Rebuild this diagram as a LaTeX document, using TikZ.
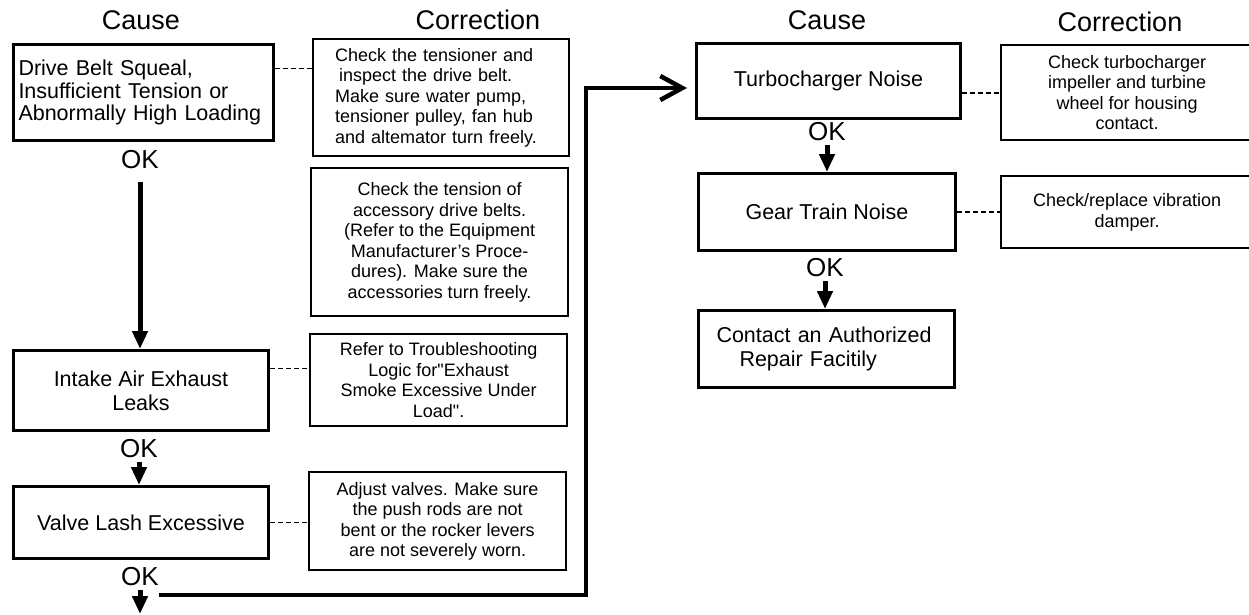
\documentclass[tikz,border=0pt]{standalone}
\usepackage{fontspec}
\setmainfont{Liberation Sans}
\usetikzlibrary{arrows.meta,calc}
\tikzset{
  cause/.style={draw, line width=3pt, anchor=north west, align=center, inner sep=4pt, font=\fontsize{21.5}{24}\selectfont},
  fix/.style={draw, line width=2.2pt, anchor=north west, align=center, inner sep=4pt, font=\fontsize{18}{20.5}\selectfont},
  hdr/.style={font=\fontsize{27}{30}\selectfont},
  oklbl/.style={font=\fontsize{26}{28}\selectfont},
  arr/.style={-{Triangle[length=18pt,width=15pt]}, line width=5pt},
  route/.style={-{Straight Barb[length=22pt,width=24pt]}, line width=4.5pt},
  link/.style={line width=1.8pt, dash pattern=on 5pt off 3pt},
}

\begin{document}
\begin{tikzpicture}[x=1pt, y=-1pt]
  \clip (0,0) rectangle (1249,615);

  % headers
  \node[hdr] (hcA) at (141,20) {Cause};
  \node[hdr] (hrA) at (478,20) {Correction};
  \node[hdr] (hcB) at (827,20) {Cause};
  \node[hdr] (hrB) at (1120,22) {Correction};

  % left column
  \node[cause, align=left, text width=250pt, inner xsep=5pt, minimum height=96pt,
        font=\fontsize{21.5}{22.5}\selectfont] (A) at (12,43)
    {Drive Belt Squeal,\\Insufficient Tension or\\Abnormally High Loading\\[6pt]};
  \node[cause, minimum width=255pt, minimum height=80pt] (B) at (12,349) {Intake Air Exhaust\\Leaks};
  \node[cause, minimum width=255pt, minimum height=72pt] (V) at (12,485) {Valve Lash Excessive};

  \node[fix, align=left, text width=212pt, inner xsep=22pt, minimum height=117pt] (C1) at (312,38)
    {Check the tensioner and\\\hspace*{4pt}inspect the drive belt.\\Make sure water pump,\\tensioner pulley, fan hub\\and altemator turn freely.};
  \node[fix, minimum width=257pt, minimum height=148pt] (C2) at (310,167)
    {Check the tension of\\accessory drive belts.\\(Refer to the Equipment\\Manufacturer's Proce-\\dures). Make sure the\\accessories turn freely.};
  \node[fix, minimum width=257pt, minimum height=92pt] (C3) at (309,333)
    {Refer to Troubleshooting\\Logic for\textquotedbl Exhaust\\Smoke Excessive Under\\Load\textquotedbl.};
  \node[fix, minimum width=257pt, minimum height=98pt] (C4) at (308,471)
    {Adjust valves. Make sure\\the push rods are not\\bent or the rocker levers\\are not severely worn.};

  \node[oklbl] (okA) at (140,160) {OK};
  \node[oklbl] (okB) at (139,449) {OK};
  \node[oklbl] (okV) at (140,577) {OK};

  % right column
  \node[cause, minimum width=264pt, minimum height=75pt] (T) at (695,42) {Turbocharger Noise};
  \node[cause, minimum width=257pt, minimum height=77pt] (G) at (697,172) {Gear Train Noise};
  \node[cause, align=left, text width=220pt, inner xsep=18pt, minimum height=77pt] (K) at (697,309)
    {Contact an Authorized\\\hspace*{23pt}Repair Facitily};

  \node[fix, minimum width=252pt, minimum height=95pt] (C5) at (1000,44)
    {Check turbocharger\\impeller and turbine\\wheel for housing\\contact.};
  \node[fix, minimum width=252pt, minimum height=72pt] (C6) at (1000,175)
    {Check/replace vibration\\damper.};

  \node[oklbl] (okT) at (827,132) {OK};
  \node[oklbl] (okG) at (825,268) {OK};

  % flow
  \draw[arr, shorten <=9pt] (okA.south) -- (okA.south |- B.north);
  \draw[arr] (okB.south) -- (okB.south |- V.north);
  \coordinate (vend) at (140,614);
  \draw[arr] (okV.south) -- (vend);
  \coordinate (go) at (159,595);
  \coordinate (bend) at (586,88);
  \draw[route, shorten >=8pt] (go) -| (bend) -- (bend -| T.west);
  \draw[arr] (okT.south) -- (okT.south |- G.north);
  \draw[arr] (okG.south) -- (okG.south |- K.north);

  % cause to correction
  \draw[link] ([yshift=24pt]A.east) -- ([yshift=24pt]A.east -| C1.west);
  \draw[link] ([yshift=22pt]B.east) -- ([yshift=22pt]B.east -| C3.west);
  \draw[link] (V.east) -- (V.east -| C4.west);
  \draw[link] ([yshift=-12pt]T.east) -- ([yshift=-12pt]T.east -| C5.west);
  \draw[link] (G.east) -- (G.east -| C6.west);
\end{tikzpicture}
\end{document}
